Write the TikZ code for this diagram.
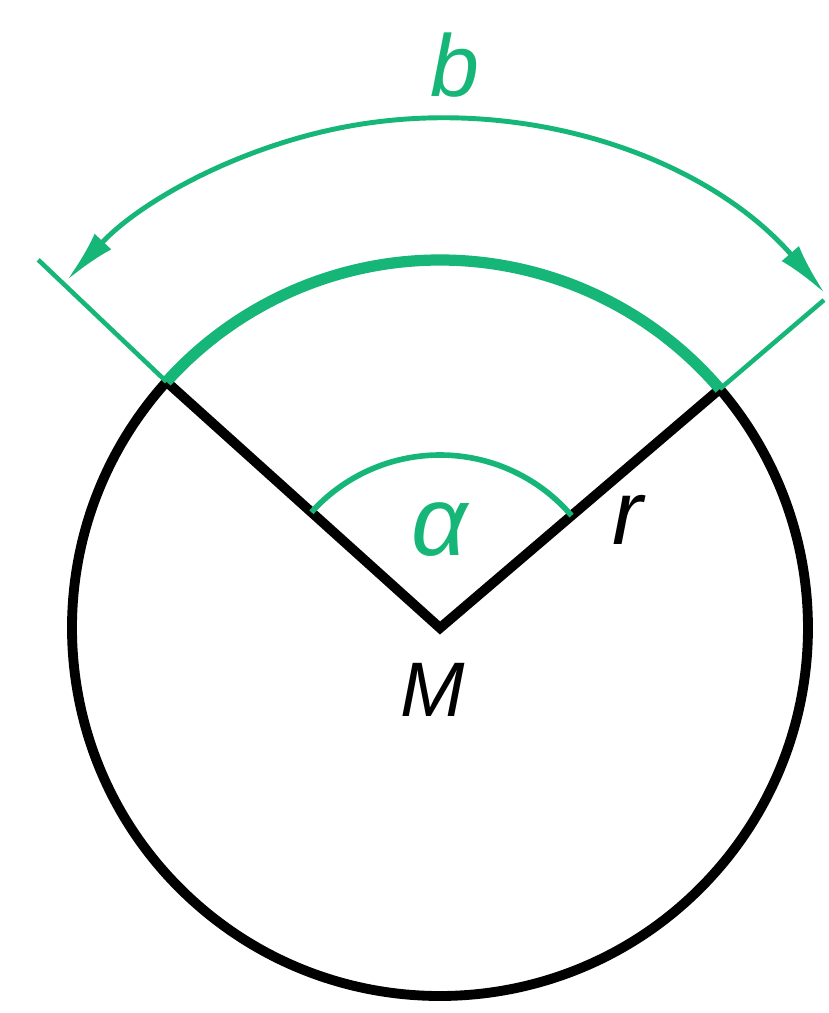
\documentclass[tikz,border=0pt]{standalone}
\usepackage{fontspec}
\setmainfont{Liberation Sans}
\usepackage{tikz}
\usetikzlibrary{arrows.meta}
\definecolor{mint}{RGB}{22,182,120}

\begin{document}
\begin{tikzpicture}[
  contour/.style={draw=black, line width=2.8pt, line join=miter},
  bogen/.style={draw=mint, line width=3.2pt},
  hilfs/.style={draw=mint, line width=1.3pt},
  mass/.style={draw=mint, line width=1.4pt, {Latex[length=15pt,width=6.5pt]}-{Latex[length=15pt,width=6.5pt]}},
  winkel/.style={draw=mint, line width=1.6pt},
  lbl/.style={font=\itshape, inner sep=0pt}
]
\useasboundingbox (-4.40,-3.85) rectangle (3.88,6.28);

% Mittelpunkt und Radien
\coordinate (M) at (0,0);
\coordinate (A) at (138:3.68);
\coordinate (B) at (40.5:3.68);
\draw[contour] (A) arc[start angle=138, end angle=400.5, radius=3.68] -- (M) -- cycle;

% Bogen b
\draw[bogen] (B) arc[start angle=40.5, end angle=138, radius=3.68];
\coordinate (Aext) at (137.5:5.45);
\coordinate (Bext) at (40.5:5.05);
\draw[hilfs] (A) -- (Aext);
\draw[hilfs] (B) -- (Bext);
\draw[mass] (41:5.1) arc[start angle=41, end angle=137, radius=5.1];

% Winkel alpha
\draw[winkel] (40.5:1.73) arc[start angle=40.5, end angle=138, radius=1.73];

% Beschriftung
\node[lbl, text=mint, font=\itshape\fontsize{25}{29}\selectfont] (lb) at (0.15,5.63) {b};
\node[lbl, text=mint, font=\itshape\fontsize{28}{32}\selectfont] (la) at (0,0.98) {α};
\node[lbl, font=\itshape\fontsize{26}{30}\selectfont] (lr) at (1.88,1.08) {r};
\node[lbl, font=\itshape\fontsize{22}{26}\selectfont] (lm) at (-0.07,-0.62) {M};
\end{tikzpicture}
\end{document}
